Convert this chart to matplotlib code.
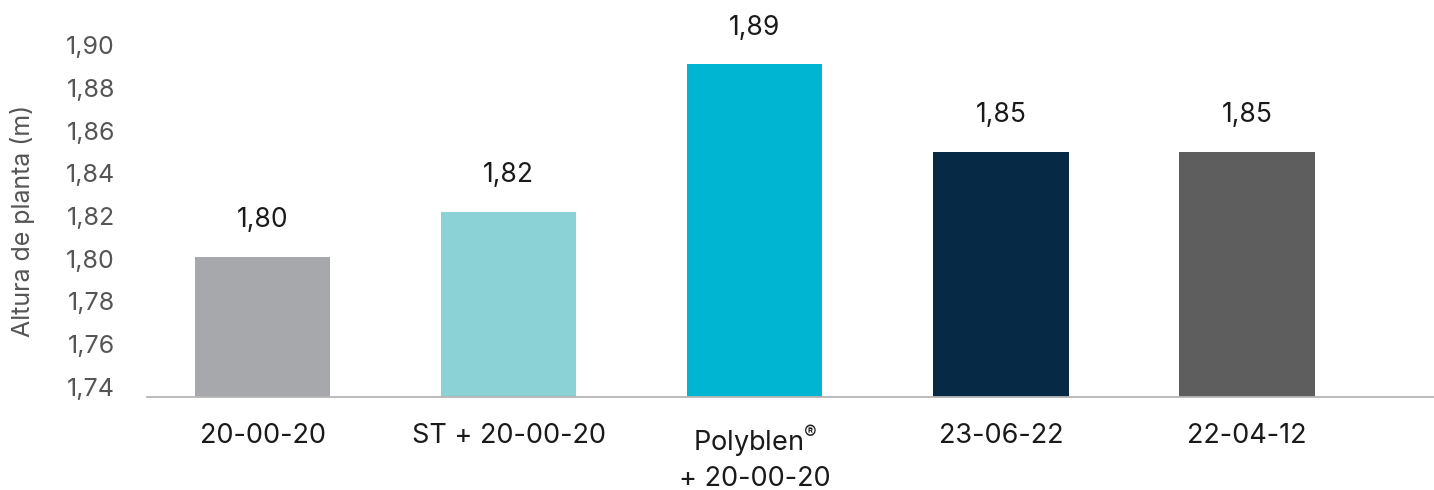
import matplotlib
matplotlib.use("Agg")
import matplotlib.pyplot as plt

categories = ["20-00-20", "ST + 20-00-20", "Polyblen$^{\\mathrm{®}}$\n+ 20-00-20", "23-06-22", "22-04-12"]
heights = [1.801, 1.822, 1.891, 1.850, 1.850]
value_labels = ["1,80", "1,82", "1,89", "1,85", "1,85"]
bar_colors = ["#A7A8AB", "#8AD2D5", "#00B5D1", "#062945", "#5E5E5E"]
yticks = [1.74, 1.76, 1.78, 1.80, 1.82, 1.84, 1.86, 1.88, 1.90]

plt.rcParams["font.family"] = ["Inter", "DejaVu Sans"]
plt.rcParams["mathtext.fontset"] = "custom"
plt.rcParams["mathtext.rm"] = "Inter"

fig = plt.figure(figsize=(14.34, 4.9), dpi=100)
ax = fig.add_axes([0.1025, 0.1898, 0.8975, 0.908 - 0.1898])

x = range(len(categories))
ax.bar(x, heights, width=0.55, color=bar_colors, zorder=2)

for i, (h, lab) in enumerate(zip(heights, value_labels)):
    ax.annotate(lab, (i, h), xytext=(0, 26.5), textcoords="offset points",
                ha="center", va="center", fontsize=19, color="#1A1A1A")

ax.set_ylim(1.7353, 1.90)
ax.set_xlim(-0.47, 4.76)
ax.set_yticks(yticks)
ax.set_yticklabels([f"{t:.2f}".replace(".", ",") for t in yticks])
ax.set_xticks(list(x))
ax.set_xticklabels(categories, linespacing=1.35)

ax.tick_params(axis="y", length=0, pad=23, labelsize=18, labelcolor="#555555")
ax.tick_params(axis="x", length=0, pad=19, labelsize=19.5, labelcolor="#1A1A1A")

for side in ["top", "right", "left"]:
    ax.spines[side].set_visible(False)
ax.spines["bottom"].set_color("#B5B5B5")
ax.spines["bottom"].set_linewidth(1.3)

fig.text(0.016, 0.549, "Altura de planta (m)", rotation=90, ha="center", va="center",
         fontsize=18, color="#555555")

fig.savefig("out.png", dpi=100)
